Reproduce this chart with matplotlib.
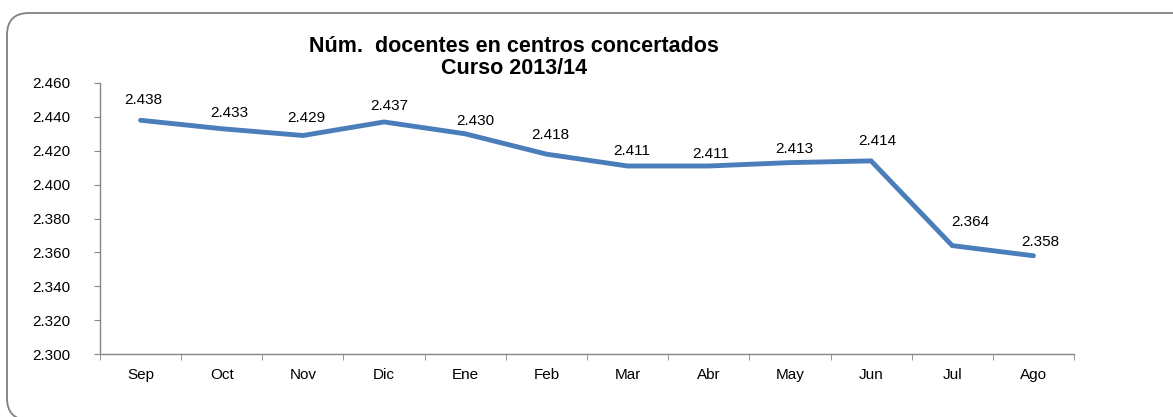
import matplotlib.pyplot as plt
from matplotlib.patches import FancyBboxPatch
from matplotlib.ticker import FuncFormatter
from matplotlib.transforms import IdentityTransform

plt.rcParams['font.family'] = ['Liberation Sans', 'DejaVu Sans']

# datos del curso 2013/14
months = ['Sep', 'Oct', 'Nov', 'Dic', 'Ene', 'Feb', 'Mar', 'Abr', 'May', 'Jun', 'Jul', 'Ago']
teachers = [2.438, 2.433, 2.429, 2.437, 2.430, 2.418, 2.411, 2.411, 2.413, 2.414, 2.364, 2.358]
y_ticks = [2.300, 2.320, 2.340, 2.360, 2.380, 2.400, 2.420, 2.440, 2.460]

# desplazamiento de cada etiqueta (px), como en el original
label_nudge = [(3, 13), (8, 9), (3, 11), (5, 9), (10, 6), (4, 12),
               (4, 8), (2, 5), (4, 7), (6, 13), (18, 17), (7, 7)]

def es_fmt(v, pos=None):
    return f'{v:.3f}'

W, H = 1173, 417
fig = plt.figure(figsize=(W / 100, H / 100), dpi=100)
ax = fig.add_axes([100 / W, 1 - 354 / H, 974 / W, 271 / H])

# marco redondeado (en pixeles), recortado por la derecha y abajo
frame = FancyBboxPatch((7, -3), 1200, 407,
                       boxstyle='round,pad=0,rounding_size=22',
                       transform=IdentityTransform(), facecolor='none',
                       edgecolor='#808080', linewidth=1.3)
fig.patches.append(frame)

x = list(range(len(months)))
ax.plot(x, teachers, color='#4a7ebb', linewidth=3.5, solid_capstyle='round', solid_joinstyle='miter')

for xi, v, (dx, dy) in zip(x, teachers, label_nudge):
    ax.annotate(es_fmt(v), (xi, v), xytext=(dx, dy), textcoords='offset pixels',
                ha='center', va='bottom', fontsize=11)

ax.set_xlim(-0.5, len(months) - 0.5)
ax.set_ylim(2.300, 2.460)
ax.set_yticks(y_ticks)
ax.yaxis.set_major_formatter(FuncFormatter(es_fmt))
ax.set_xticks(x)
ax.set_xticklabels(months)
ax.set_xticks([i - 0.5 for i in range(len(months) + 1)], minor=True)

for s in ['top', 'right']:
    ax.spines[s].set_visible(False)
for s in ['left', 'bottom']:
    ax.spines[s].set_color('#868686')
    ax.spines[s].set_linewidth(1.0)

ax.tick_params(axis='x', which='major', length=0, pad=10, labelsize=11)
ax.tick_params(axis='x', which='minor', length=4, color='#868686', direction='out')
ax.tick_params(axis='y', length=4, color='#868686', pad=17, labelsize=11)

fig.text(514 / W, 1 - 46 / H, 'Núm.  docentes en centros concertados', ha='center', va='center',
         fontsize=15.5, fontweight='bold')
fig.text(514 / W, 1 - 68 / H, 'Curso 2013/14', ha='center', va='center',
         fontsize=15.5, fontweight='bold')

fig.savefig('out.png', dpi=100)
